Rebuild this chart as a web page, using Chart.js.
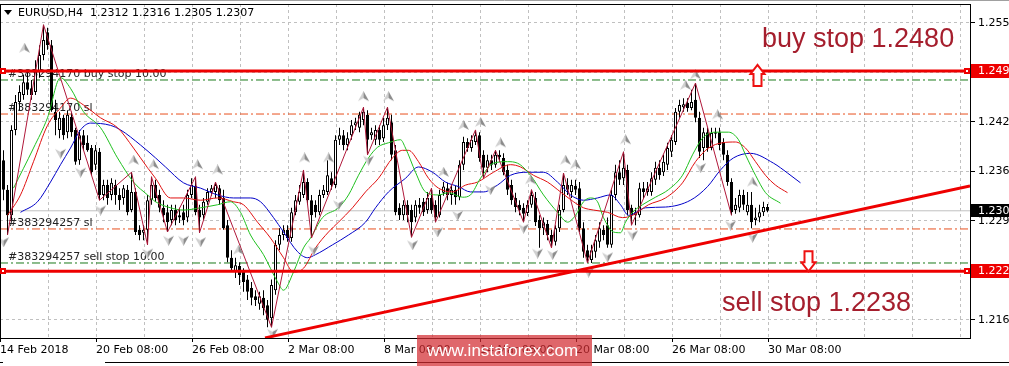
<!DOCTYPE html>
<html><head><meta charset="utf-8">
<script src="https://cdn.jsdelivr.net/npm/chart.js"></script>
<style>html,body{margin:0;padding:0;background:#fff;overflow:hidden}canvas{display:block}</style>
</head><body>
<canvas id="c" width="1009" height="366"></canvas>
<script>
// ---------- data ----------
const headerText = 'EURUSD,H4  1.2312 1.2316 1.2305 1.2307';

const opens = [
1.2374,1.2335,1.2301,1.2414,1.2451,1.2460,1.2477,1.2469,1.2464,1.2491,
1.2513,1.2543,1.2526,1.2438,1.2414,1.2430,1.2411,1.2431,1.2414,1.2374,
1.2407,1.2397,1.2390,1.2368,1.2385,1.2328,1.2341,1.2328,1.2341,1.2328,
1.2324,1.2335,1.2308,1.2332,1.2282,1.2278,1.2282,1.2321,1.2341,1.2328,
1.2311,1.2305,1.2295,1.2308,1.2301,1.2305,1.2298,1.2328,1.2340,1.2308,
1.2301,1.2319,1.2332,1.2332,1.2337,1.2324,1.2288,1.2245,1.2226,1.2234,
1.2226,1.2216,1.2205,1.2194,1.2184,1.2192,1.2182,1.2165,1.2202,1.2262,
1.2275,1.2282,1.2271,1.2305,1.2319,1.2328,1.2345,1.2321,1.2315,1.2305,
1.2328,1.2332,1.2350,1.2341,1.2401,1.2407,1.2394,1.2407,1.2420,1.2417,
1.2427,1.2434,1.2407,1.2401,1.2414,1.2403,1.2420,1.2424,1.2387,1.2311,
1.2301,1.2315,1.2308,1.2298,1.2315,1.2319,1.2308,1.2324,1.2315,1.2301,
1.2331,1.2337,1.2328,1.2335,1.2325,1.2368,1.2398,1.2390,1.2398,1.2407,
1.2381,1.2364,1.2374,1.2368,1.2381,1.2377,1.2361,1.2341,1.2324,1.2315,
1.2311,1.2304,1.2315,1.2324,1.2295,1.2284,1.2290,1.2275,1.2266,1.2284,
1.2308,1.2341,1.2332,1.2340,1.2337,1.2284,1.2255,1.2242,1.2253,1.2266,
1.2282,1.2288,1.2262,1.2328,1.2358,1.2350,1.2361,1.2311,1.2301,1.2301,
1.2337,1.2332,1.2332,1.2348,1.2364,1.2358,1.2368,1.2385,1.2398,1.2438,
1.2444,1.2450,1.2443,1.2454,1.2430,1.2390,1.2411,1.2390,1.2409,1.2411,
1.2398,1.2381,1.2345,1.2308,1.2311,1.2328,1.2305,1.2315,1.2295,1.2298,
1.2305,1.2312];

const highs = [
1.2387,1.2341,1.2420,1.2460,1.2473,1.2487,1.2493,1.2480,1.2506,1.2526,
1.2553,1.2549,1.2533,1.2454,1.2438,1.2434,1.2440,1.2438,1.2417,1.2414,
1.2414,1.2407,1.2394,1.2394,1.2390,1.2348,1.2348,1.2350,1.2348,1.2337,
1.2341,1.2341,1.2358,1.2337,1.2288,1.2288,1.2328,1.2352,1.2348,1.2335,
1.2321,1.2315,1.2315,1.2315,1.2311,1.2315,1.2335,1.2350,1.2352,1.2315,
1.2324,1.2337,1.2341,1.2345,1.2341,1.2335,1.2295,1.2255,1.2245,1.2239,
1.2231,1.2222,1.2213,1.2202,1.2200,1.2202,1.2189,1.2216,1.2268,1.2284,
1.2288,1.2288,1.2311,1.2328,1.2341,1.2361,1.2350,1.2328,1.2321,1.2335,
1.2341,1.2374,1.2358,1.2407,1.2417,1.2414,1.2411,1.2427,1.2430,1.2438,
1.2444,1.2440,1.2417,1.2420,1.2420,1.2430,1.2444,1.2434,1.2394,1.2317,
1.2321,1.2321,1.2315,1.2321,1.2324,1.2324,1.2332,1.2337,1.2321,1.2335,
1.2345,1.2344,1.2341,1.2340,1.2374,1.2405,1.2403,1.2407,1.2414,1.2411,
1.2387,1.2381,1.2381,1.2387,1.2387,1.2383,1.2368,1.2348,1.2331,1.2321,
1.2317,1.2321,1.2335,1.2332,1.2301,1.2298,1.2295,1.2282,1.2288,1.2315,
1.2357,1.2350,1.2348,1.2348,1.2345,1.2292,1.2262,1.2262,1.2275,1.2292,
1.2288,1.2298,1.2335,1.2368,1.2374,1.2385,1.2368,1.2315,1.2311,1.2344,
1.2345,1.2345,1.2358,1.2372,1.2374,1.2381,1.2397,1.2407,1.2443,1.2454,
1.2456,1.2456,1.2467,1.2476,1.2438,1.2417,1.2417,1.2417,1.2417,1.2417,
1.2403,1.2387,1.2350,1.2324,1.2335,1.2335,1.2332,1.2332,1.2311,1.2315,
1.2319,1.2316];

const lows = [
1.2321,1.2275,1.2295,1.2407,1.2440,1.2454,1.2460,1.2454,1.2460,1.2483,
1.2506,1.2520,1.2438,1.2407,1.2403,1.2401,1.2403,1.2405,1.2368,1.2368,
1.2387,1.2385,1.2354,1.2361,1.2321,1.2321,1.2315,1.2321,1.2315,1.2308,
1.2315,1.2301,1.2305,1.2275,1.2268,1.2268,1.2262,1.2315,1.2319,1.2305,
1.2292,1.2279,1.2288,1.2288,1.2291,1.2288,1.2292,1.2324,1.2301,1.2278,
1.2295,1.2315,1.2327,1.2324,1.2315,1.2282,1.2239,1.2226,1.2218,1.2209,
1.2200,1.2189,1.2182,1.2181,1.2176,1.2169,1.2153,1.2153,1.2196,1.2255,
1.2268,1.2266,1.2266,1.2301,1.2315,1.2324,1.2315,1.2271,1.2298,1.2301,
1.2324,1.2328,1.2335,1.2337,1.2394,1.2387,1.2387,1.2401,1.2414,1.2411,
1.2420,1.2381,1.2401,1.2394,1.2394,1.2398,1.2414,1.2374,1.2301,1.2295,
1.2295,1.2292,1.2272,1.2292,1.2303,1.2300,1.2303,1.2303,1.2292,1.2298,
1.2327,1.2321,1.2315,1.2315,1.2321,1.2361,1.2385,1.2385,1.2394,1.2372,
1.2350,1.2358,1.2361,1.2364,1.2372,1.2354,1.2328,1.2315,1.2305,1.2301,
1.2292,1.2300,1.2311,1.2287,1.2258,1.2275,1.2268,1.2258,1.2261,1.2279,
1.2305,1.2328,1.2324,1.2328,1.2279,1.2245,1.2238,1.2238,1.2245,1.2258,
1.2268,1.2258,1.2258,1.2321,1.2341,1.2341,1.2301,1.2288,1.2288,1.2298,
1.2324,1.2327,1.2327,1.2341,1.2348,1.2353,1.2361,1.2378,1.2394,1.2430,
1.2438,1.2438,1.2440,1.2424,1.2377,1.2374,1.2385,1.2387,1.2403,1.2387,
1.2374,1.2340,1.2301,1.2303,1.2305,1.2308,1.2301,1.2284,1.2288,1.2292,
1.2300,1.2305];

const closes = [
1.2335,1.2301,1.2414,1.2451,1.2464,1.2477,1.2467,1.2460,1.2491,1.2513,
1.2533,1.2526,1.2440,1.2427,1.2430,1.2407,1.2434,1.2411,1.2372,1.2407,
1.2394,1.2387,1.2358,1.2387,1.2328,1.2341,1.2324,1.2344,1.2328,1.2321,
1.2337,1.2305,1.2332,1.2279,1.2275,1.2282,1.2321,1.2341,1.2324,1.2311,
1.2301,1.2292,1.2308,1.2295,1.2298,1.2295,1.2328,1.2341,1.2305,1.2298,
1.2319,1.2332,1.2337,1.2341,1.2321,1.2284,1.2245,1.2231,1.2235,1.2222,
1.2213,1.2200,1.2192,1.2189,1.2194,1.2178,1.2163,1.2209,1.2262,1.2275,
1.2282,1.2271,1.2305,1.2321,1.2332,1.2345,1.2321,1.2301,1.2305,1.2328,
1.2335,1.2354,1.2341,1.2401,1.2407,1.2394,1.2403,1.2420,1.2424,1.2434,
1.2438,1.2401,1.2411,1.2414,1.2401,1.2420,1.2430,1.2381,1.2305,1.2301,
1.2315,1.2301,1.2292,1.2315,1.2311,1.2305,1.2324,1.2308,1.2298,1.2328,
1.2339,1.2328,1.2335,1.2325,1.2368,1.2398,1.2390,1.2401,1.2407,1.2377,
1.2364,1.2374,1.2368,1.2381,1.2378,1.2358,1.2335,1.2321,1.2312,1.2308,
1.2303,1.2315,1.2328,1.2292,1.2284,1.2292,1.2275,1.2266,1.2284,1.2308,
1.2341,1.2335,1.2341,1.2335,1.2284,1.2253,1.2245,1.2255,1.2268,1.2284,
1.2275,1.2262,1.2328,1.2358,1.2348,1.2364,1.2308,1.2301,1.2305,1.2337,
1.2332,1.2337,1.2350,1.2364,1.2354,1.2372,1.2390,1.2401,1.2438,1.2447,
1.2448,1.2443,1.2451,1.2430,1.2385,1.2411,1.2390,1.2410,1.2411,1.2394,
1.2381,1.2345,1.2305,1.2315,1.2328,1.2315,1.2315,1.2292,1.2298,1.2305,
1.2312,1.2307];

// Alligator lines (read at sample bars)
const lipsBars   = [2.5,7.5,11,14.25,16.75,20,24.25,28.5,32.5,36,38,41.75,45,49.25,53.5,56.75,59.25,61.75,65,68.5,70,72.5,75,76.75,79.75,83.75,86.25,88.75,91.25,93.5,96.25,99.25,100.5,103,105.5,108.75,111.25,114.75,116.75,119.25,122.5,126,128.5,131.75,135,138.5,141,143,145,146.75,148.5,150,152.5,154.25,155.5,157.25,159.75,163,166.25,169.75,172.25,174.75,178,181.25,183.75,185.5,188,190.5,194.25];
const lipsPrices = [1.2337,1.2390,1.2430,1.2483,1.2469,1.2438,1.2417,1.2377,1.2345,1.2328,1.2319,1.2311,1.2308,1.2311,1.2315,1.2319,1.2305,1.2275,1.2249,1.2213,1.2202,1.2226,1.2258,1.2271,1.2298,1.2311,1.2328,1.2354,1.2377,1.2391,1.2397,1.2401,1.2390,1.2358,1.2332,1.2328,1.2331,1.2325,1.2328,1.2350,1.2370,1.2372,1.2370,1.2354,1.2328,1.2305,1.2292,1.2301,1.2319,1.2324,1.2319,1.2298,1.2279,1.2278,1.2292,1.2305,1.2315,1.2325,1.2335,1.2354,1.2381,1.2403,1.2411,1.2411,1.2401,1.2381,1.2354,1.2331,1.2317];

const teethBars   = [1,4.25,7.5,11,14.25,16.75,20,24.25,28.5,32.5,36,38,41.75,45,49.25,53.5,57.5,60,63.5,66.75,70,72.5,75,78,81.25,83.75,87.25,90.5,93.75,97.25,99.75,101.25,103.75,106.25,108.75,112.25,115.5,118.5,122.5,126.75,129.25,132.5,136,139.25,142.5,145,147.5,151,154.75,157.25,161.25,165.5,169.75,173,176.25,179.75,183,185.5,188,190.5,193,196];
const teethPrices = [1.2301,1.2328,1.2372,1.2420,1.2443,1.2456,1.2447,1.2430,1.2417,1.2390,1.2364,1.2350,1.2324,1.2324,1.2321,1.2324,1.2319,1.2315,1.2292,1.2271,1.2245,1.2226,1.2231,1.2258,1.2279,1.2292,1.2311,1.2332,1.2350,1.2377,1.2387,1.2387,1.2372,1.2350,1.2337,1.2332,1.2341,1.2345,1.2358,1.2368,1.2365,1.2354,1.2345,1.2332,1.2319,1.2311,1.2308,1.2305,1.2298,1.2301,1.2315,1.2324,1.2344,1.2372,1.2390,1.2397,1.2398,1.2390,1.2372,1.2354,1.2341,1.2331];

const jawBars   = [4.25,8.5,11.75,14.25,16.75,19.25,21.75,26.75,29.25,34.25,38,40.5,45,49.25,53.5,57.5,61.75,64.25,67.5,70,73.5,76,78,82.25,86.25,90.5,93,96.25,100.5,103.75,107.25,110.5,113.75,116.75,120,123.5,126.75,131,135,138.5,141.75,145,148.5,151.75,154.25,156.25,160.5,165.5,171.75,176,179.25,182.5,186.75,192.5,196,199.25];
const jawPrices = [1.2305,1.2319,1.2345,1.2368,1.2390,1.2414,1.2423,1.2420,1.2414,1.2394,1.2377,1.2365,1.2344,1.2337,1.2328,1.2324,1.2324,1.2319,1.2298,1.2279,1.2253,1.2245,1.2249,1.2262,1.2275,1.2292,1.2311,1.2332,1.2350,1.2365,1.2358,1.2345,1.2339,1.2332,1.2332,1.2341,1.2354,1.2358,1.2358,1.2345,1.2328,1.2321,1.2324,1.2328,1.2315,1.2301,1.2311,1.2312,1.2321,1.2339,1.2361,1.2377,1.2383,1.2370,1.2357,1.2344];

// ZigZag vertices
const zigzagBars   = [1,10,24,32,36,37,41,48,49,53,67,75,77,90,91,96,102,107,108,118,120,123,130,132,137,140,146,155,157,173,182];
const zigzagPrices = [1.2275,1.2553,1.2321,1.2358,1.2262,1.2352,1.2279,1.2352,1.2278,1.2345,1.2153,1.2361,1.2271,1.2444,1.2381,1.2444,1.2272,1.2337,1.2292,1.2414,1.2350,1.2387,1.2292,1.2335,1.2258,1.2357,1.2238,1.2385,1.2288,1.2476,1.2301];

// Fractals
const upFractalBars   = [5.25,32.5,37.5,48.5,53.5,58.75,75.25,81.25,90,96.25,110,115,119.25,124.25,131.75,140.5,143,155.5,170.5,173,178.5,187.25];
const upFractalPrices = [1.2522,1.2374,1.2368,1.2368,1.2361,1.2255,1.2377,1.2377,1.2458,1.2458,1.2358,1.2420,1.2424,1.2397,1.2348,1.2374,1.2368,1.2401,1.2473,1.2487,1.2434,1.2345];
const downFractalBars   = [0,14.25,19.25,24.25,36,41.25,45,49.25,67.25,77.5,83.75,91.25,102.25,108.5,113.5,121.75,130,133.5,137.25,146.25,151,157.25,174.25,181.75,187.25];
const downFractalPrices = [1.2266,1.2383,1.2358,1.2308,1.2251,1.2268,1.2268,1.2266,1.2145,1.2255,1.2315,1.2374,1.2262,1.2279,1.2301,1.2335,1.2284,1.2251,1.2249,1.2226,1.2246,1.2275,1.2364,1.2288,1.2272];

// Levels
const redLevels = [1.2492, 1.2227];
const redLevelLabels = ['1.249', '1.222'];
const orderLevels = [1.2480, 1.2238];        // green dash-dot
const slLevels = [1.2435, 1.2283];           // orange dash-dot
const orderLabelTexts = ['#383294170 buy stop 10.00', '#383294170 sl', '#383294257 sl', '#383294257 sell stop 10.00'];
const orderLabelLevels = [1.2480, 1.2435, 1.2283, 1.2238];
const lastPrice = 1.2307;
const lastPriceLabel = '1.230';
const trendBars = [65.375, 241.625];
const trendPrices = [1.2139, 1.2340];
const orderArrowBars = [188.25, 201.125];
const orderArrowLevels = [1.2492, 1.2227];
const orderArrowDirs = ['up', 'down'];
const bigTexts = ['buy stop 1.2480', 'sell stop 1.2238'];

// Axes
const yTickValues = [1.25554,1.24899,1.24245,1.23590,1.22936,1.22281,1.21627];
const yTickLabels = ['1.255','1.249','1.242','1.236','1.229','1.222','1.216'];
const xGridBars = [-0.875,11.125,23.125,35.125,47.125,59.125,71.125,83.125,95.125,107.125,119.125,131.125,143.125,155.125,167.125,179.125,191.125,203.125,215.125,227.125,239.125];
const xTickLabels = ['14 Feb 2018','','20 Feb 08:00','','26 Feb 08:00','','2 Mar 08:00','','8 Mar 08:00','','14 Mar 08:00','','20 Mar 08:00','','26 Mar 08:00','','30 Mar 08:00','','','',''];

// ---------- build ----------
const FONT = '"DejaVu Sans", sans-serif';
Chart.defaults.font.family = FONT;

function makeArrow(up) {
  const c = document.createElement('canvas'); c.width = 11; c.height = 11;
  const g = c.getContext('2d');
  if (!up) { g.translate(0, 11); g.scale(1, -1); }
  g.fillStyle = '#d0d0d0';
  g.beginPath(); g.moveTo(5.5, 0); g.lineTo(0, 10); g.lineTo(5.5, 7); g.closePath(); g.fill();
  g.fillStyle = '#8c8c8c';
  g.beginPath(); g.moveTo(5.5, 0); g.lineTo(11, 10); g.lineTo(5.5, 7); g.closePath(); g.fill();
  return c;
}
const upImg = makeArrow(true), downImg = makeArrow(false);

const XMIN = -0.875, XMAX = 241.625;
const pts = (xs, ys) => xs.map((x, i) => ({x, y: ys[i]}));
const hline = (v) => [{x: XMIN, y: v}, {x: XMAX, y: v}];
const barIdx = opens.map((_, i) => i);

const datasets = [];
redLevels.forEach(v => datasets.push({type:'line', data: hline(v), borderColor:'#ee0000', borderWidth:3, pointRadius:0, order:0}));
datasets.push({type:'line', data: pts(trendBars, trendPrices), borderColor:'#ee0000', borderWidth:3, pointRadius:0, order:0});
datasets.push({type:'line', data: pts(upFractalBars, upFractalPrices), showLine:false, pointStyle: upImg, pointRadius:5, order:1});
datasets.push({type:'line', data: pts(downFractalBars, downFractalPrices), showLine:false, pointStyle: downImg, pointRadius:5, order:1});
datasets.push({type:'line', data: pts(zigzagBars, zigzagPrices), borderColor:'#b0183a', borderWidth:1, pointRadius:0, tension:0, order:2});
datasets.push({type:'line', data: pts(lipsBars, lipsPrices), borderColor:'#1fc01f', borderWidth:1, pointRadius:0, cubicInterpolationMode:'monotone', order:2});
datasets.push({type:'line', data: pts(teethBars, teethPrices), borderColor:'#e01010', borderWidth:1, pointRadius:0, cubicInterpolationMode:'monotone', order:2});
datasets.push({type:'line', data: pts(jawBars, jawPrices), borderColor:'#0000c8', borderWidth:1, pointRadius:0, cubicInterpolationMode:'monotone', order:2});
datasets.push({type:'bar', data: barIdx.map(i => ({x:i, y:[opens[i], closes[i]]})),
  backgroundColor: barIdx.map(i => closes[i] >= opens[i] ? '#ffffff' : '#000000'),
  borderColor:'#000000', borderWidth:1, borderSkipped:false, barThickness:3, grouped:false, inflateAmount:0, minBarLength:1, order:3});
datasets.push({type:'bar', data: barIdx.map(i => ({x:i, y:[lows[i], highs[i]]})),
  backgroundColor:'#000000', borderWidth:0, barThickness:1, grouped:false, inflateAmount:0, order:4});
orderLevels.forEach(v => datasets.push({type:'line', data: hline(v), borderColor:'#1a7a1a', borderWidth:1, borderDash:[8,3,2,3], pointRadius:0, order:5}));
slLevels.forEach(v => datasets.push({type:'line', data: hline(v), borderColor:'#e8501e', borderWidth:1, borderDash:[8,3,2,3], pointRadius:0, order:5}));
datasets.push({type:'line', data: hline(lastPrice), borderColor:'#c0c0c0', borderWidth:1, pointRadius:0, order:6});

const overlay = {
  id: 'overlay',
  beforeDatasetsDraw(chart) {
    const {ctx, scales:{y}} = chart;
    ctx.save();
    ctx.font = '11px ' + FONT;
    ctx.fillStyle = '#222';
    ctx.textBaseline = 'alphabetic';
    orderLabelTexts.forEach((t, i) => ctx.fillText(t, 8, Math.round(y.getPixelForValue(orderLabelLevels[i])) - 3));
    ctx.restore();
  },
  afterDraw(chart) {
    const {ctx, chartArea: a, scales:{x, y}} = chart;
    ctx.save();
    // frame
    ctx.strokeStyle = '#000'; ctx.lineWidth = 1;
    ctx.strokeRect(a.left + 0.5, a.top + 0.5, a.right - a.left, a.bottom - a.top);
    ctx.strokeStyle = '#a0a0a0';
    ctx.beginPath(); ctx.moveTo(0, 0.5); ctx.lineTo(1009, 0.5); ctx.stroke();
    ctx.strokeStyle = '#000';
    ctx.beginPath(); ctx.moveTo(0, 362.5); ctx.lineTo(3, 362.5); ctx.moveTo(105, 362.5); ctx.lineTo(1009, 362.5); ctx.stroke();
    // red line end squares + right labels
    redLevels.forEach((v, i) => {
      const py = Math.round(y.getPixelForValue(v));
      [a.left, a.right - 6].forEach(sx => {
        ctx.fillStyle = '#ee0000'; ctx.fillRect(sx, py - 3, 6, 6);
        ctx.fillStyle = '#fff'; ctx.fillRect(sx + 2, py - 1, 2, 2);
      });
      ctx.fillStyle = '#ee0000'; ctx.fillRect(a.right + 1, py - 7, 38, 14);
      ctx.fillStyle = '#fff'; ctx.font = '11px ' + FONT; ctx.textBaseline = 'middle';
      ctx.fillText(redLevelLabels[i], a.right + 8, py + 0.5);
    });
    const lp = Math.round(y.getPixelForValue(lastPrice));
    ctx.fillStyle = '#000'; ctx.fillRect(a.right + 1, lp - 7, 38, 13);
    ctx.fillStyle = '#fff'; ctx.fillText(lastPriceLabel, a.right + 8, lp);
    // hollow order arrows
    ctx.lineWidth = 2; ctx.strokeStyle = '#ee1111'; ctx.fillStyle = '#fff';
    orderArrowBars.forEach((b, i) => {
      const cx = Math.round(x.getPixelForValue(b)) + 0.5;
      const ly = y.getPixelForValue(orderArrowLevels[i]);
      ctx.beginPath();
      if (orderArrowDirs[i] === 'up') {
        const t = ly - 6;
        ctx.moveTo(cx, t); ctx.lineTo(cx + 7, t + 9); ctx.lineTo(cx + 4, t + 9); ctx.lineTo(cx + 4, t + 21);
        ctx.lineTo(cx - 4, t + 21); ctx.lineTo(cx - 4, t + 9); ctx.lineTo(cx - 7, t + 9); ctx.closePath();
      } else {
        const b2 = ly;
        ctx.moveTo(cx, b2); ctx.lineTo(cx + 7, b2 - 9); ctx.lineTo(cx + 4, b2 - 9); ctx.lineTo(cx + 4, b2 - 20);
        ctx.lineTo(cx - 4, b2 - 20); ctx.lineTo(cx - 4, b2 - 9); ctx.lineTo(cx - 7, b2 - 9); ctx.closePath();
      }
      ctx.fill(); ctx.stroke();
    });
    // big annotations
    ctx.fillStyle = '#a51e2d'; ctx.font = '27px "Liberation Sans", Arial, sans-serif'; ctx.textBaseline = 'alphabetic';
    ctx.fillText(bigTexts[0], 762, 47);
    ctx.fillText(bigTexts[1], 722, 311);
    // header
    ctx.fillStyle = '#000';
    ctx.beginPath(); ctx.moveTo(4, 10); ctx.lineTo(12, 10); ctx.lineTo(8, 15); ctx.closePath(); ctx.fill();
    ctx.font = '11px ' + FONT; ctx.textBaseline = 'middle';
    ctx.fillText(headerText, 18, 13);
    // watermark
    ctx.fillStyle = 'rgba(210,45,50,0.72)';
    ctx.fillRect(417, 335, 175, 31);
    ctx.fillStyle = '#fff'; ctx.font = '17px "Liberation Sans", Arial, sans-serif'; ctx.textBaseline = 'middle';
    ctx.fillText('www.instaforex.com', 427, 351);
    ctx.restore();
  }
};

new Chart(document.getElementById('c'), {
  type: 'line',
  data: { datasets },
  options: {
    responsive: false, animation: false, devicePixelRatio: 1, events: [],
    layout: { autoPadding: false, padding: { top: 4, left: 0, right: 0, bottom: 0 } },
    plugins: { legend: { display: false }, tooltip: { enabled: false } },
    scales: {
      x: {
        type: 'linear', min: XMIN, max: XMAX, offset: false,
        afterFit: s => { s.height = 28; s.paddingLeft = 0; s.paddingRight = 0; },
        afterBuildTicks: s => { s.ticks = xGridBars.map(v => ({ value: v })); },
        grid: { color: '#c0c0c0', lineWidth: 1, drawTicks: true, tickLength: 4, offset: false,
                tickColor: c => (xTickLabels[c.index] ? '#000' : 'rgba(0,0,0,0)') },
        border: { display: false, dash: [3, 3] },
        ticks: { autoSkip: false, maxRotation: 0, align: 'start', padding: 2, color: '#000',
                 font: { family: FONT, size: 11 }, callback: (v, i) => xTickLabels[i] }
      },
      y: {
        type: 'linear', position: 'right', min: 1.21388, max: 1.25805,
        afterFit: s => { s.width = 39; s.paddingTop = 0; s.paddingBottom = 0; },
        afterBuildTicks: s => { s.ticks = yTickValues.map(v => ({ value: v })); },
        grid: { color: '#c0c0c0', lineWidth: 1, tickLength: 5, tickColor: '#000' },
        border: { display: false, dash: [3, 3] },
        ticks: { autoSkip: false, padding: 3, color: '#000', font: { family: FONT, size: 11 },
                 callback: (v, i) => yTickLabels[i] }
      }
    }
  },
  plugins: [overlay]
});
</script>
</body></html>
